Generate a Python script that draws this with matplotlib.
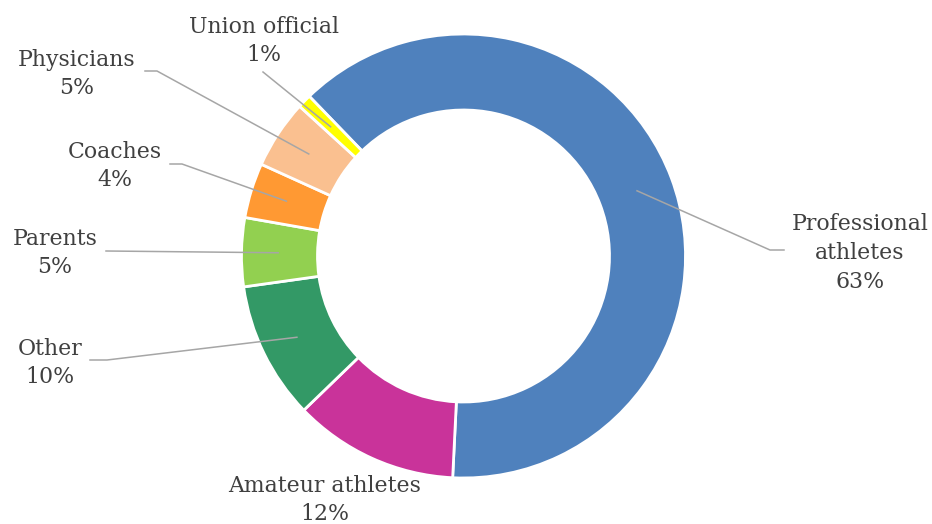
import numpy as np
import matplotlib.pyplot as plt

labels = ['Professional\nathletes', 'Amateur athletes', 'Other', 'Parents',
          'Coaches', 'Physicians', 'Union official']
shares = [63, 12, 10, 5, 4, 5, 1]
colors = ['#4F81BD', '#C9339A', '#339966', '#92D050', '#FF9933', '#FAC090', '#FFFF00']

# label centre (px, from top-left), leader elbow (px) or None
text_pos = [(860, 253), (325, 500), (50, 363), (55, 253), (115, 166), (77, 74), (264, 41)]
elbows = [[(784, 250), (770, 250)], None, [(90, 360), (107, 360)], [(106, 251)],
          [(170, 164), (182, 164)], [(145, 71), (157, 71)], [(263, 72)]]

W, H = 932, 524
cx, cy, R = 463.5, H - 256, 222
start = 134

fig = plt.figure(figsize=(9.32, 5.24), dpi=100)
ax = fig.add_axes([0, 0, 1, 1])

wedges, _ = ax.pie(shares, colors=colors, startangle=start, counterclock=False,
                   center=(cx, cy), radius=R, frame=True,
                   wedgeprops=dict(width=76, edgecolor='white', linewidth=2))
ax.set_xlim(0, W)
ax.set_ylim(0, H)
ax.set_aspect('equal')
ax.axis('off')

for w, lab, v, tp, el in zip(wedges, labels, shares, text_pos, elbows):
    ax.text(tp[0], H - tp[1], f'{lab}\n{v}%', ha='center', va='center',
            fontsize=15.8, family='DejaVu Serif', color='#404040', linespacing=1.4)
    if el is None:
        continue
    mid = np.deg2rad((w.theta1 + w.theta2) / 2)
    px = cx + 0.835 * R * np.cos(mid)
    py = cy + 0.835 * R * np.sin(mid)
    xs = [p[0] for p in el] + [px]
    ys = [H - p[1] for p in el] + [py]
    ax.plot(xs, ys, color='#A6A6A6', lw=1.1)

fig.savefig('out.png', dpi=100)
